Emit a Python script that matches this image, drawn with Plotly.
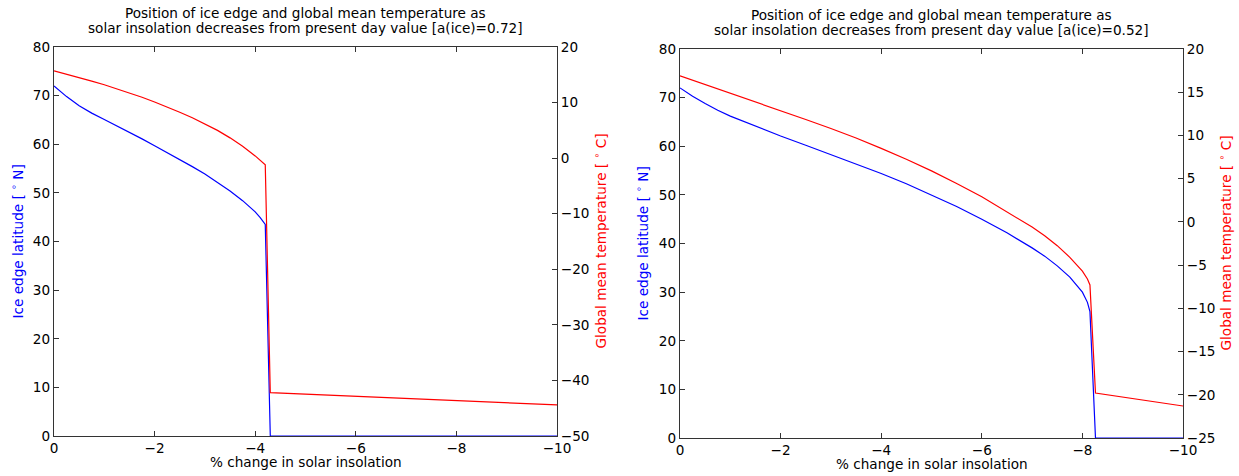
import plotly.graph_objects as go

W, H = 1239, 476

# ---- data: a(ice) = 0.72 ----
insol_a = [0, -0.25, -0.5, -0.75, -1.0, -1.25, -1.5, -1.75, -2.0, -2.25, -2.5, -2.75, -3.0,
           -3.25, -3.5, -3.75, -4.0, -4.1, -4.2, -4.3, -10]
ice_a = [72.0, 69.8, 67.9, 66.4, 65.1, 63.8, 62.5, 61.1, 59.7, 58.3, 56.9, 55.4, 53.9,
         52.2, 50.4, 48.4, 46.1, 44.9, 43.5, 0, 0]
temp_a = [15.7, 15.12, 14.51, 13.87, 13.2, 12.49, 11.74, 10.95, 10.1, 9.21, 8.27, 7.27, 6.2,
          5.0, 3.65, 2.15, 0.4, -0.35, -1.2, -42.2, -44.4]

# ---- data: a(ice) = 0.52 ----
insol_b = [0, -0.25, -0.5, -0.75, -1.0, -1.5, -2.0, -2.5, -3.0, -3.5, -4.0, -4.5, -5.0, -5.5,
           -6.0, -6.5, -7.0, -7.25, -7.5, -7.75, -8.0, -8.1, -8.15, -8.26, -10]
ice_b = [72.0, 70.3, 68.8, 67.4, 66.2, 64.1, 62.1, 60.2, 58.3, 56.4, 54.4, 52.3, 50.0, 47.6,
         45.0, 42.2, 39.1, 37.4, 35.4, 33.1, 30.0, 27.9, 26.0, 0, 0]
temp_b = [16.9, 16.4, 15.9, 15.4, 14.9, 13.9, 12.9, 11.85, 10.8, 9.7, 8.5, 7.25, 5.9, 4.45,
          2.9, 1.2, -0.6, -1.6, -2.75, -4.1, -5.7, -6.6, -7.3, -19.8, -21.3]

title_lines = [
    ["Position of ice edge and global mean temperature as",
     "solar insolation decreases from present day value [a(ice)=0.72]"],
    ["Position of ice edge and global mean temperature as",
     "solar insolation decreases from present day value [a(ice)=0.52]"],
]
xlabel = "% change in solar insolation"
ylabel_l = "Ice edge latitude [ <sup>∘</sup> N]"
ylabel_r = "Global mean temperature [ <sup>∘</sup> C]"

x_ticks = [0, -2, -4, -6, -8, -10]
lat_ticks = [0, 10, 20, 30, 40, 50, 60, 70, 80]
temp_ticks_a = [-50, -40, -30, -20, -10, 0, 10, 20]
temp_ticks_b = [-25, -20, -15, -10, -5, 0, 5, 10, 15, 20]

FONT = "DejaVu Sans"
FS = 13.6


def px(x):
    return x / W


def py(y):
    return 1 - y / H


# plot boxes in window pixels
boxes = [(54, 47, 557, 436), (680, 49, 1183, 438)]

fig = go.Figure()

panels = [
    (insol_a, ice_a, temp_a, temp_ticks_a, [-50, 20]),
    (insol_b, ice_b, temp_b, temp_ticks_b, [-25, 20]),
]

annotations = []
for i, (xs, ice, temp, tticks, trange) in enumerate(panels):
    x0, y0, x1, y1 = boxes[i]
    xa = "x" if i == 0 else "x2"
    ya_l = "y" if i == 0 else "y3"
    ya_r = "y2" if i == 0 else "y4"
    xkey = "xaxis" if i == 0 else "xaxis2"
    ylkey = "yaxis" if i == 0 else "yaxis3"
    yrkey = "yaxis2" if i == 0 else "yaxis4"

    fig.add_trace(go.Scatter(x=xs, y=ice, mode="lines", line=dict(color="#0000ff", width=1.2),
                             xaxis=xa, yaxis=ya_l, showlegend=False))
    fig.add_trace(go.Scatter(x=xs, y=temp, mode="lines", line=dict(color="#ff0000", width=1.2),
                             xaxis=xa, yaxis=ya_r, showlegend=False))

    common = dict(showline=True, linecolor="#333333", linewidth=1.2, ticks="inside", ticklen=5,
                  tickcolor="#333333", tickwidth=1, showgrid=False, zeroline=False,
                  tickfont=dict(family=FONT, size=FS, color="black"), automargin=False)

    fig.layout[xkey] = dict(domain=[px(x0), px(x1)], anchor=ya_l, range=[0, -10],
                            tickvals=x_ticks, mirror="ticks", ticklabelstandoff=0, **common)
    fig.layout[ylkey] = dict(domain=[py(y1), py(y0)], anchor=xa, range=[0, 80],
                             tickvals=lat_ticks, **common)
    fig.layout[yrkey] = dict(domain=[py(y1), py(y0)], anchor=xa, overlaying=ya_l, side="right",
                             range=trange, tickvals=tticks, **common)

    cx = (x0 + x1) / 2
    for j, line in enumerate(title_lines[i]):
        annotations.append(dict(text=line, x=px(cx), y=py(y0 - 34 + 15 * j), xref="paper", yref="paper",
                                xanchor="center", yanchor="middle", showarrow=False,
                                font=dict(family=FONT, size=FS, color="black")))
    annotations.append(dict(text=xlabel, x=px(cx), y=py(y1 + 26), xref="paper", yref="paper",
                            xanchor="center", yanchor="middle", showarrow=False,
                            font=dict(family=FONT, size=FS, color="black")))
    annotations.append(dict(text=ylabel_l, x=px(x0 - 37), y=py((y0 + y1) / 2), xref="paper", yref="paper",
                            xanchor="center", yanchor="middle", textangle=-90, showarrow=False,
                            font=dict(family=FONT, size=FS, color="#0000ff")))
    annotations.append(dict(text=ylabel_r, x=px(x1 + 43), y=py((y0 + y1) / 2), xref="paper", yref="paper",
                            xanchor="center", yanchor="middle", textangle=-90, showarrow=False,
                            font=dict(family=FONT, size=FS, color="#ff0000")))

fig.update_layout(width=W, height=H, margin=dict(l=0, r=0, t=0, b=0),
                  paper_bgcolor="white", plot_bgcolor="white",
                  annotations=annotations, font=dict(family=FONT, size=FS))

# remove the default page margin so the 1239x476 figure fills the window exactly
fig.write_html("out.html", config={"displayModeBar": False},
               post_script="document.body.style.margin='0';document.body.style.overflow='hidden';")
